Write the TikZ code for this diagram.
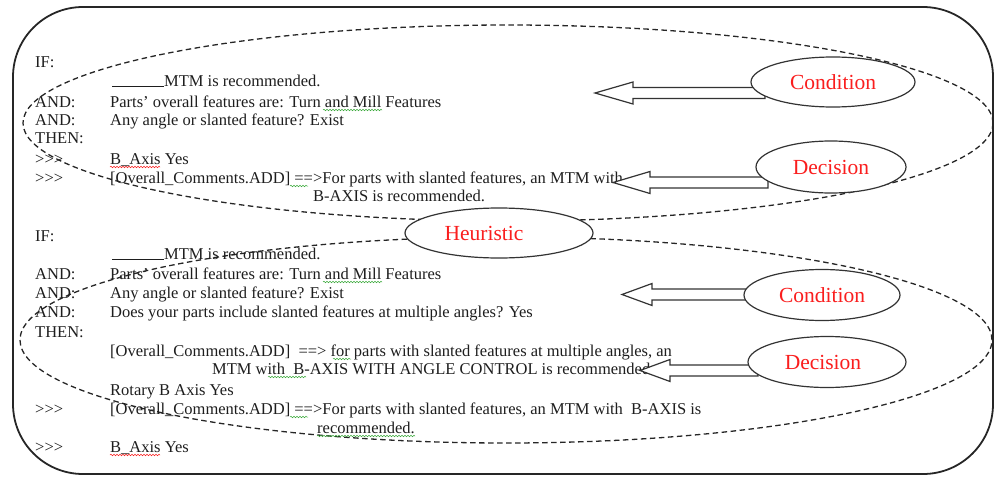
\documentclass[tikz,border=0pt]{standalone}
\usepackage{fontspec}
\setmainfont{Liberation Serif}
\usetikzlibrary{shapes.geometric,calc,decorations.pathmorphing}
\definecolor{lblred}{RGB}{250,30,30}
\definecolor{inkgray}{RGB}{30,30,30}
\definecolor{sqgreen}{RGB}{60,170,60}
\begin{document}
\begin{tikzpicture}[x=1pt,y=-1pt,
  txt/.style={anchor=base west,inner sep=0pt,font=\fontsize{16.5}{18}\selectfont,text=inkgray},
  redlbl/.style={inner sep=0pt,font=\fontsize{21.5}{24}\selectfont,text=lblred},
  oval/.style={ellipse,draw=black!80,line width=1.2pt,fill=white,inner sep=0pt},
  dashedoval/.style={draw=black!85,line width=1.3pt,dash pattern=on 5.5pt off 3.5pt},
  blockarr/.style={draw=black!80,line width=1.2pt,fill=white,line join=miter},
  frame/.style={draw=black!85,line width=1.8pt,rounded corners=70pt},
  sq/.style={decorate,decoration={snake,segment length=3pt,amplitude=0.8pt},line width=0.5pt}
]
\useasboundingbox (0,0) rectangle (1002,479);
\draw[frame] (13,7) rectangle (993,474);

% dashed groupings
\draw[dashedoval] (508,123) ellipse [x radius=485pt, y radius=98pt];
\draw[dashedoval] (506,340) ellipse [x radius=486pt, y radius=103pt];

% ---- top rule text
\node[txt] (if1) at (35,67) {IF:};
\node[txt] (m1) at (112,86) {\rule[-0.5pt]{52pt}{0.6pt}MTM is recommended.};
\node[txt] (and1a) at (35,107) {AND:};
\node[txt] (p1) at (110,107) {Parts' overall features are: Turn and Mill Features};
\node[txt] (and1b) at (35,125) {AND:};
\node[txt] (q1) at (110,125) {Any angle or slanted feature? Exist};
\node[txt] (then1) at (35,143) {THEN:};
\node[txt] (g1a) at (35,164) {>{}>{}>};
\node[txt] (b1) at (110,164) {B\_Axis Yes};
\node[txt] (g1b) at (35,183) {>{}>{}>};
\node[txt] (c1t) at (110,183) {[Overall\_Comments.ADD] ==>For parts with slanted features, an MTM with};
\node[txt] (r1) at (313,201) {B-AXIS is recommended.};

% ---- bottom rule text
\node[txt] (if2) at (35,241) {IF:};
\node[txt] (m2) at (112,259) {\rule[-0.5pt]{52pt}{0.6pt}MTM is recommended.};
\node[txt] (and2a) at (35,279) {AND:};
\node[txt] (p2) at (110,279) {Parts' overall features are: Turn and Mill Features};
\node[txt] (and2b) at (35,298) {AND:};
\node[txt] (q2) at (110,298) {Any angle or slanted feature? Exist};
\node[txt] (and2c) at (35,317) {AND:};
\node[txt] (s2) at (110,317) {Does your parts include slanted features at multiple angles? Yes};
\node[txt] (then2) at (35,337) {THEN:};
\node[txt] (c2a) at (110,356) {[Overall\_Comments.ADD]\ \ ==> for parts with slanted features at multiple angles, an};
\node[txt] (c2b) at (212,374) {MTM with\ \ B-AXIS WITH ANGLE CONTROL is recommended.};
\node[txt] (rot2) at (110,395) {Rotary B Axis Yes};
\node[txt] (g2a) at (35,414) {>{}>{}>};
\node[txt] (c2c) at (110,414) {[Overall\_Comments.ADD] ==>For parts with slanted features, an MTM with\ \ B-AXIS is};
\node[txt] (r2) at (317,433) {recommended.};
\node[txt] (g2b) at (35,452) {>{}>{}>};
\node[txt] (b2) at (110,452) {B\_Axis Yes};

% spell-check squiggles
\draw[sq,sqgreen] (323,110) -- (382,110);
\draw[sq,lblred] (110,167) -- (160,167);
\draw[sq,sqgreen] (290,186) -- (308,186);
\draw[sq,sqgreen] (323,282) -- (382,282);
\draw[sq,sqgreen] (333,359) -- (351,359);
\draw[sq,sqgreen] (268,377) -- (306,377);
\draw[sq,sqgreen] (290,417) -- (308,417);
\draw[sq,sqgreen] (317,436) -- (415,436);
\draw[sq,lblred] (110,455) -- (160,455);

% block arrows (tails hidden under the ovals)
\coordinate (tip1) at (595,93);    \coordinate (tail1) at (765,93);
\coordinate (tip2) at (613,182.5); \coordinate (tail2) at (768,182.5);
\coordinate (tip3) at (622,294.5); \coordinate (tail3) at (750,294.5);
\coordinate (tip4) at (640,370.5); \coordinate (tail4) at (758,370.5);
\newcommand\blockarrow[3]{%
  \draw[blockarr] (#1) -- ++(#3,-11) -- ++(0,5.5) -- ($(#2)+(0,-5.5)$) -- ($(#2)+(0,5.5)$)
    -- ($(#1)+(#3,5.5)$) -- ++(0,5.5) -- cycle;}
\blockarrow{tip1}{tail1}{38}
\blockarrow{tip2}{tail2}{37}
\blockarrow{tip3}{tail3}{30}
\blockarrow{tip4}{tail4}{30}

% label ovals
\node[oval,minimum width=164pt,minimum height=50pt] (cond1) at (833,82) {};
\node[redlbl] at (cond1.center) {Condition};
\node[oval,minimum width=150pt,minimum height=52pt] (dec1) at (831,167) {};
\node[redlbl] at (dec1.center) {Decision};
\node[oval,minimum width=156pt,minimum height=51pt] (cond2) at (822,295) {};
\node[redlbl] at (cond2.center) {Condition};
\node[oval,minimum width=158pt,minimum height=51pt] (dec2) at (827,362) {};
\node[redlbl] at ($(dec2.center)+(-4,0)$) {Decision};
\node[oval,minimum width=188pt,minimum height=50pt] (heur) at (499,233) {};
\node[redlbl] at ($(heur.center)+(-15,0)$) {Heuristic};
\end{tikzpicture}
\end{document}
